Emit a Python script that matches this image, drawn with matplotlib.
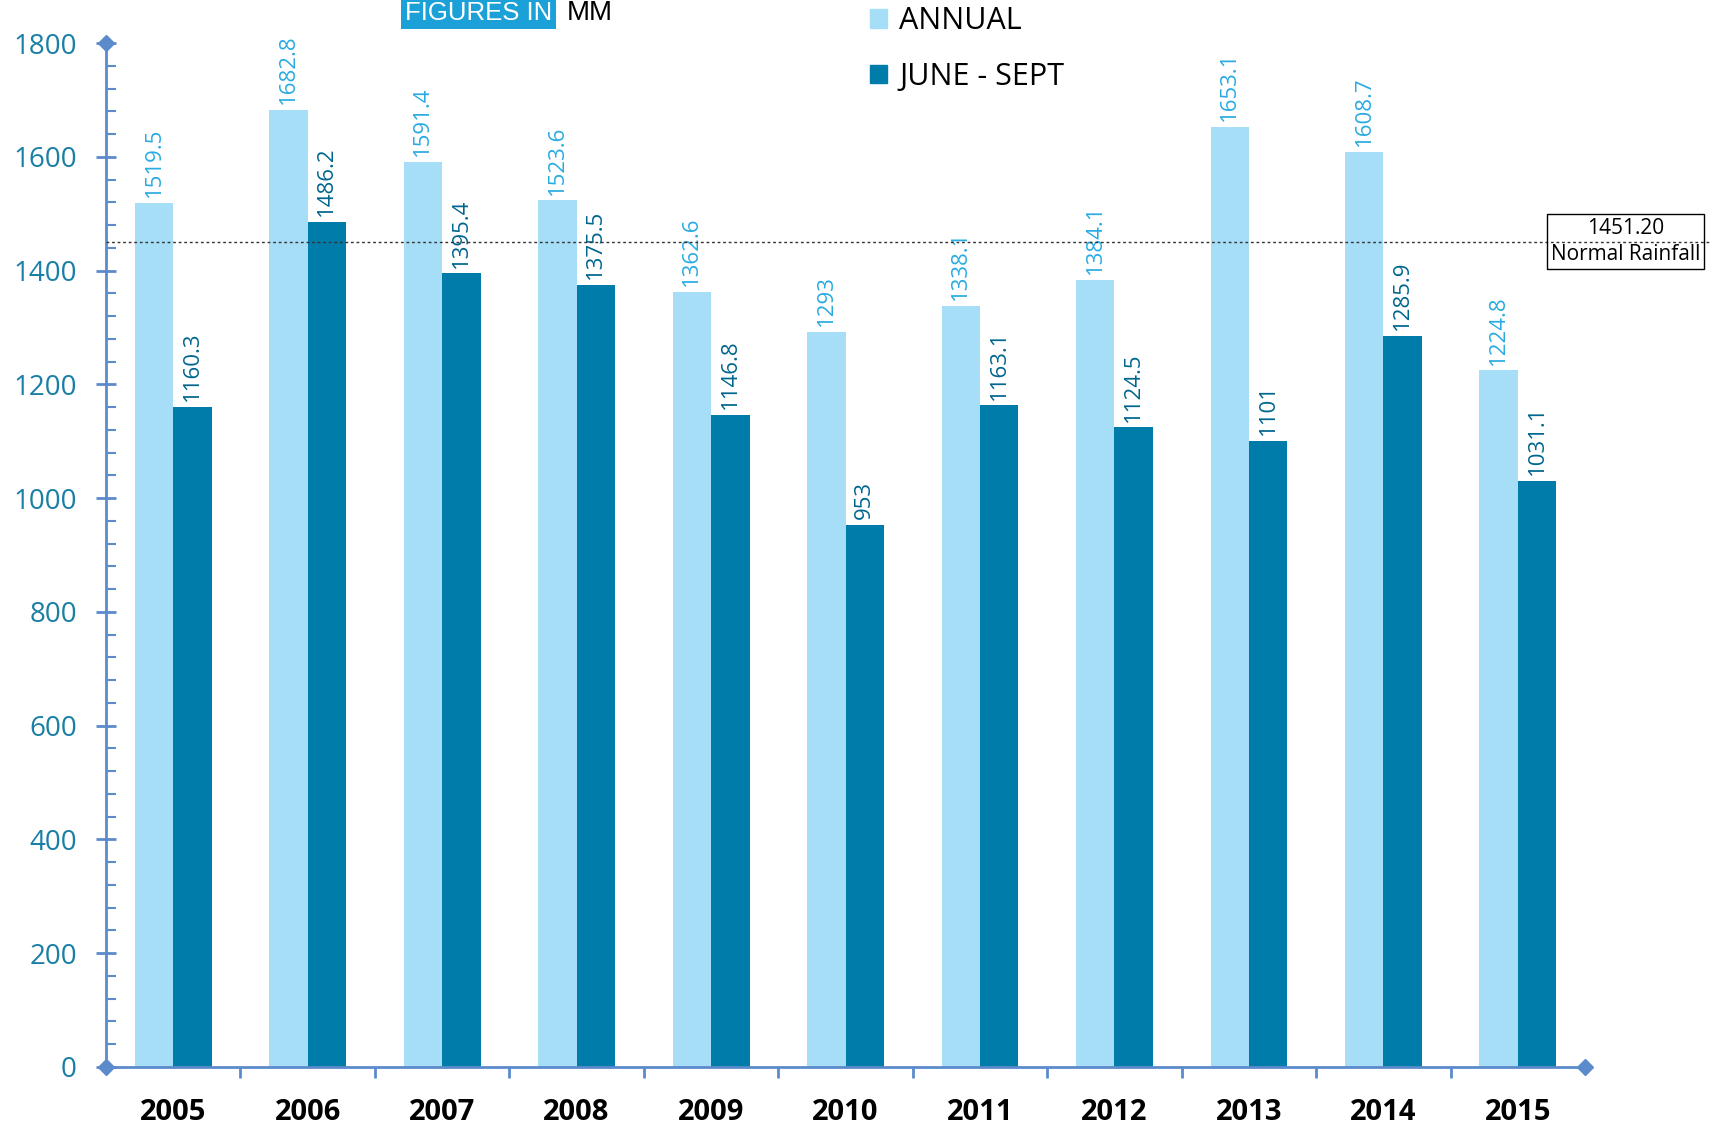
import matplotlib
matplotlib.use("Agg")
import matplotlib.pyplot as plt
from matplotlib.patches import Patch
import numpy as np

years = ["2005", "2006", "2007", "2008", "2009", "2010", "2011", "2012", "2013", "2014", "2015"]
annual = [1519.5, 1682.8, 1591.4, 1523.6, 1362.6, 1293, 1338.1, 1384.1, 1653.1, 1608.7, 1224.8]
june_sept = [1160.3, 1486.2, 1395.4, 1375.5, 1146.8, 953, 1163.1, 1124.5, 1101, 1285.9, 1031.1]
normal_rainfall = 1451.20

plt.rcParams["font.family"] = ["Open Sans", "DejaVu Sans"]

C_ANN = "#a6def7"
C_JS = "#007caa"
C_ANN_TXT = "#29abe2"
C_JS_TXT = "#00668f"
C_AXIS = "#5b8bcb"
C_YTICK = "#1a7fa6"

fig = plt.figure(figsize=(17.2, 11.25), dpi=100)
ax = fig.add_axes([0.0616, 0.0516, 0.86, 0.91])

x = np.arange(len(years))
w = 0.286
ax.bar(x - w / 2, annual, w, color=C_ANN, zorder=2)
ax.bar(x + w / 2, june_sept, w, color=C_JS, zorder=2)

for xi, v in zip(x, annual):
    ax.annotate(f"{v:g}", (xi - w / 2, v), xytext=(0, 4), textcoords="offset points",
                rotation=90, ha="center", va="bottom", fontsize=16, color=C_ANN_TXT)
for xi, v in zip(x, june_sept):
    ax.annotate(f"{v:g}", (xi + w / 2, v), xytext=(0, 4), textcoords="offset points",
                rotation=90, ha="center", va="bottom", fontsize=16, color=C_JS_TXT)

# normal rainfall reference line, running out past the axes
ax.plot([-0.5, 11.43], [normal_rainfall, normal_rainfall], ls=(0, (2, 2)), lw=1,
        color="#333333", clip_on=False, zorder=3)
ax.text(10.80, normal_rainfall, f"{normal_rainfall:.2f}\nNormal Rainfall", ha="center",
        va="center", fontsize=15, linespacing=1.3,
        bbox=dict(boxstyle="square,pad=0.2", fc="none", ec="black", lw=1), zorder=4)

ax.set_xlim(-0.5, 10.5)
ax.set_ylim(0, 1800)
for s in ["top", "right"]:
    ax.spines[s].set_visible(False)
for s in ["left", "bottom"]:
    ax.spines[s].set_color(C_AXIS)
    ax.spines[s].set_linewidth(2)

ax.set_yticks(np.arange(0, 1801, 200))
ax.set_yticks(np.arange(0, 1801, 40), minor=True)
ax.tick_params(axis="y", which="major", direction="inout", length=14, width=2,
               color=C_AXIS, labelsize=20, labelcolor=C_YTICK, pad=14)
ax.tick_params(axis="y", which="minor", direction="in", length=7, width=1.5, color=C_AXIS)

ax.set_xticks(x)
ax.set_xticklabels(years, fontweight="bold", fontsize=21)
ax.set_xticks(np.arange(0.5, 10.5, 1), minor=True)
ax.tick_params(axis="x", which="major", length=0, pad=22)
ax.tick_params(axis="x", which="minor", direction="out", length=8, width=2, color=C_AXIS)

# diamond ends of the axes
ax.plot([-0.5, -0.5, 10.5], [0, 1800, 0], ls="none", marker="D", ms=8, color=C_AXIS,
        clip_on=False, zorder=5)

# header text
narrow = ["Liberation Sans Narrow", "Liberation Sans", "DejaVu Sans"]
fig.text(0.2355, 0.988, "FIGURES IN", fontsize=18.5, color="white", va="center",
         family=narrow, bbox=dict(boxstyle="square,pad=0.15", fc="#1ba1d8", ec="none"))
fig.text(0.3295, 0.988, "MM", fontsize=20, color="black", va="center", family=narrow)

handles = [Patch(color=C_ANN, label="ANNUAL"), Patch(color=C_JS, label="JUNE - SEPT")]
fig.legend(handles=handles, loc="upper left", bbox_to_anchor=(0.49, 1.019), frameon=False,
           fontsize=22, handlelength=0.55, handleheight=0.55, handletextpad=0.4,
           labelspacing=0.85)

fig.savefig("out.png", dpi=100)
